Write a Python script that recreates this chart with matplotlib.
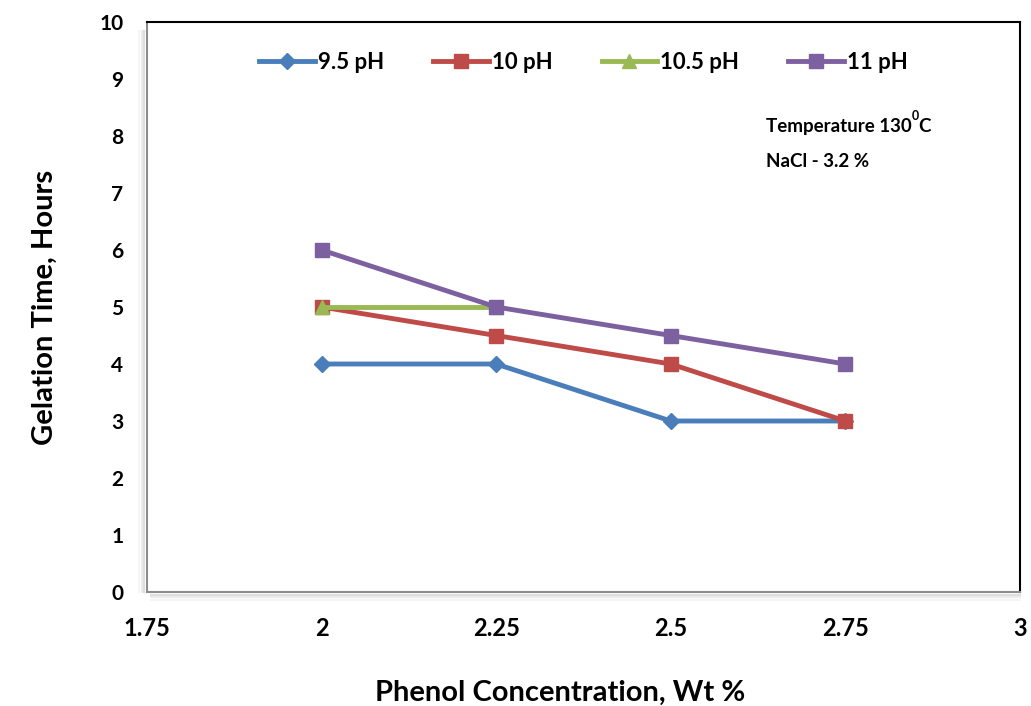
import matplotlib
matplotlib.use("Agg")
import matplotlib.pyplot as plt

phenol = [2.0, 2.25, 2.5, 2.75]
ph_95 = [4, 4, 3, 3]
ph_10 = [5, 4.5, 4, 3]
ph_105 = [5, 5]
ph_11 = [6, 5, 4.5, 4]

x_ticks = [1.75, 2, 2.25, 2.5, 2.75, 3]
x_tick_labels = ["1.75", "2", "2.25", "2.5", "2.75", "3"]

plt.rcParams["font.family"] = ["Lato", "DejaVu Sans"]
plt.rcParams["font.weight"] = "bold"

fig = plt.figure(figsize=(10.31, 7.06), dpi=100)
ax = fig.add_axes([0.1426, 0.1615, 0.8467, 0.8073])

lw = 3.5
ax.plot(phenol, ph_95, color="#4A7EBB", lw=lw, marker="D", ms=8, label="9.5 pH")
ax.plot(phenol, ph_10, color="#BE4B48", lw=lw, marker="s", ms=10, label="10 pH")
ax.plot(phenol[:2], ph_105, color="#98B954", lw=lw, marker="^", ms=10, label="10.5 pH")
ax.plot(phenol, ph_11, color="#7D60A0", lw=lw, marker="s", ms=10, label="11 pH")

ax.set_xlim(1.75, 3)
ax.set_ylim(0, 10)
ax.set_xticks(x_ticks)
ax.set_xticklabels(x_tick_labels)
ax.set_yticks(range(0, 11))
ax.tick_params(length=0)
ax.tick_params(axis="x", pad=18, labelsize=17)
ax.tick_params(axis="y", pad=17, labelsize=15)
for lab in ax.get_xticklabels() + ax.get_yticklabels():
    lab.set_fontweight("bold")

# cadre : haut/droite noirs, gauche/bas gris avec ombre
ax.spines["top"].set_color("black")
ax.spines["right"].set_color("black")
ax.spines["left"].set_color("#8c8c8c")
ax.spines["bottom"].set_color("#8c8c8c")
for s in ax.spines.values():
    s.set_linewidth(1.5)
for i, a in enumerate([0.25, 0.15, 0.08]):
    off = 0.003 * (i + 1)
    ax.plot([-off, -off], [0.0, 0.985], transform=ax.transAxes, color="gray",
            alpha=a, lw=1.5, clip_on=False, zorder=0)
    ax.plot([0.005, 1.0], [-off * 1.5, -off * 1.5], transform=ax.transAxes,
            color="gray", alpha=a, lw=1.5, clip_on=False, zorder=0)

ax.set_xlabel("Phenol Concentration, Wt %", fontsize=21, fontweight="bold")
ax.xaxis.set_label_coords(0.473, -0.155)
ax.set_ylabel("Gelation Time, Hours", fontsize=21, fontweight="bold",
              labelpad=30)

ax.legend(loc="upper center", bbox_to_anchor=(0.5, 0.983), ncol=4,
          frameon=False, handlelength=2.5, columnspacing=2.2,
          handletextpad=0.15, prop={"weight": "bold", "size": 16})

t = ax.text(0.709, 0.817, "Temperature 130", transform=ax.transAxes,
            fontsize=13.5, fontweight="bold", va="center")
ax.annotate("0", xy=(1, 0.75), xycoords=t, fontsize=9, fontweight="bold",
            va="bottom", ha="left")
ax.annotate("C", xy=(1, 0.5), xycoords=t, fontsize=13.5, fontweight="bold",
            va="center", ha="left", xytext=(5, 0), textcoords="offset points")
ax.text(0.709, 0.756, "NaCl - 3.2 %", transform=ax.transAxes,
        fontsize=13.5, fontweight="bold", va="center")

fig.savefig("out.png", dpi=100)
